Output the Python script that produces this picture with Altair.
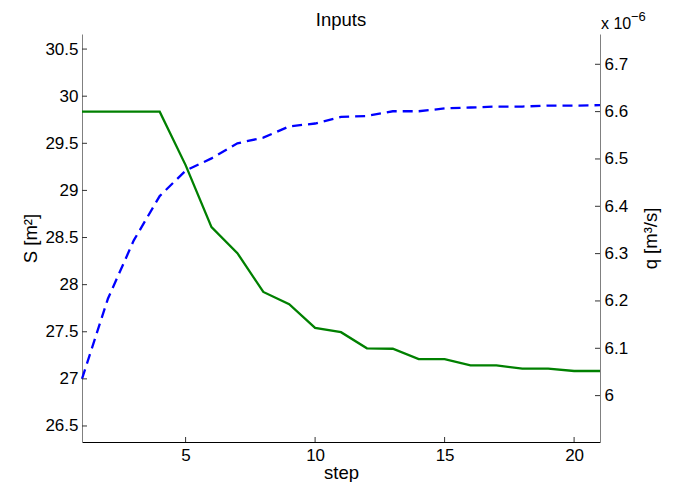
import altair as alt
import pandas as pd

# ---------------- data ----------------
steps = list(range(1, 22))
S_values = [27.0, 27.85, 28.47, 28.94, 29.21, 29.34, 29.50, 29.56, 29.68, 29.71,
            29.78, 29.79, 29.84, 29.84, 29.87, 29.88, 29.89, 29.89, 29.90, 29.90, 29.905]
# q in units of 1e-6 m^3/s
q_values = [6.6, 6.6, 6.6, 6.6, 6.487, 6.356, 6.301, 6.219, 6.193, 6.143,
            6.134, 6.100, 6.099, 6.077, 6.077, 6.064, 6.064, 6.057, 6.057, 6.052, 6.052]

x_ticks = [5, 10, 15, 20]
S_ticks = [26.5, 27, 27.5, 28, 28.5, 29, 29.5, 30, 30.5]
q_ticks = [6.0, 6.1, 6.2, 6.3, 6.4, 6.5, 6.6, 6.7]

x_domain = [1, 21]
S_domain = [26.33, 30.66]
q_domain = [5.902, 6.764]

title_text = ["Inputs"]
x_title = "step"
S_title = "S [m²]"
q_title = "q [m³/s]"
exp_base = ["x 10"]
exp_power = ["−6"]

# ---------------- styling ----------------
W, H = 518, 408
FONT = "Liberation Sans"
FS = 17      # tick labels
FT = 18.5    # titles
GREEN = "#008000"
BLUE = "#0000ff"
AXIS_GRAY = "#808080"
TICK_COLOR = "#333333"

df = pd.DataFrame({"step": steps, "S": S_values, "q": q_values})
df_xt = pd.DataFrame({"step": x_ticks})
df_st = pd.DataFrame({"S": S_ticks})
df_qt = pd.DataFrame({"q": q_ticks})

x_scale = alt.Scale(domain=x_domain, nice=False, zero=False)
S_scale = alt.Scale(domain=S_domain, nice=False, zero=False)
q_scale = alt.Scale(domain=q_domain, nice=False, zero=False)

x_axis = alt.Axis(
    values=x_ticks, title=x_title, ticks=False, grid=False,
    labelPadding=5, domainColor="black", domainWidth=1,
    labelFont=FONT, labelFontSize=FS, labelColor="black",
    titleFont=FONT, titleFontSize=FT, titleFontWeight="normal", titleColor="black",
    titleX=W / 2, titleY=36, titleAlign="center", titleBaseline="alphabetic",
)
S_axis = alt.Axis(
    values=S_ticks, format="~g", title=S_title, orient="left",
    ticks=False, grid=False, labelPadding=4,
    domainColor=AXIS_GRAY, domainWidth=1,
    labelFont=FONT, labelFontSize=FS, labelColor="black",
    titleFont=FONT, titleFontSize=FT, titleFontWeight="normal", titleColor="black",
    titleAngle=270, titleX=-52, titleY=H / 2, titleAlign="center", titleBaseline="middle",
)
q_axis = alt.Axis(
    values=q_ticks, format="~g", title=q_title, orient="right",
    ticks=False, grid=False, labelPadding=4,
    domainColor=AXIS_GRAY, domainWidth=1,
    labelFont=FONT, labelFontSize=FS, labelColor="black",
    titleFont=FONT, titleFontSize=FT, titleFontWeight="normal", titleColor="black",
    titleAngle=270, titleX=50, titleY=H / 2, titleAlign="center", titleBaseline="middle",
)

S_line = alt.Chart(df).mark_line(color=BLUE, strokeWidth=2.3, strokeDash=[10, 6]).encode(
    x=alt.X("step:Q", scale=x_scale, axis=x_axis),
    y=alt.Y("S:Q", scale=S_scale, axis=S_axis),
)
q_line = alt.Chart(df).mark_line(color=GREEN, strokeWidth=2.3).encode(
    x=alt.X("step:Q", scale=x_scale),
    y=alt.Y("q:Q", scale=q_scale, axis=q_axis),
)
S_tick_marks = alt.Chart(df_st).mark_rule(color=TICK_COLOR, strokeWidth=1).encode(
    y=alt.Y("S:Q", scale=S_scale, axis=None),
    x=alt.value(0), x2=alt.value(5),
)
q_tick_marks = alt.Chart(df_qt).mark_rule(color=TICK_COLOR, strokeWidth=1).encode(
    y=alt.Y("q:Q", scale=q_scale, axis=None),
    x=alt.value(W - 5), x2=alt.value(W),
)
x_tick_marks = alt.Chart(df_xt).mark_rule(color=TICK_COLOR, strokeWidth=1).encode(
    x=alt.X("step:Q", scale=x_scale),
    y=alt.value(H), y2=alt.value(H - 5),
)
title_mark = alt.Chart(pd.DataFrame({"t": title_text})).mark_text(
    font=FONT, fontSize=FT, color="black", align="center", baseline="alphabetic"
).encode(text="t:N", x=alt.value(W / 2), y=alt.value(-8))
exp_mark = alt.Chart(pd.DataFrame({"t": exp_base})).mark_text(
    font=FONT, fontSize=16, color="black", align="left", baseline="alphabetic"
).encode(text="t:N", x=alt.value(W + 1), y=alt.value(-5))
pow_mark = alt.Chart(pd.DataFrame({"t": exp_power})).mark_text(
    font=FONT, fontSize=13, color="black", align="left", baseline="alphabetic"
).encode(text="t:N", x=alt.value(W + 31), y=alt.value(-13))

chart = (
    alt.layer(S_line, q_line, S_tick_marks, q_tick_marks, x_tick_marks,
              title_mark, exp_mark, pow_mark)
    .resolve_scale(y="independent")
    .properties(
        width=W, height=H,
        autosize=alt.AutoSizeParams(type="none"),
        padding={"left": 74, "top": 26, "right": 66, "bottom": 40},
        background="white",
    )
    .configure_view(strokeWidth=0)
)

chart.save("out.html", embed_options={"renderer": "svg", "actions": False})
